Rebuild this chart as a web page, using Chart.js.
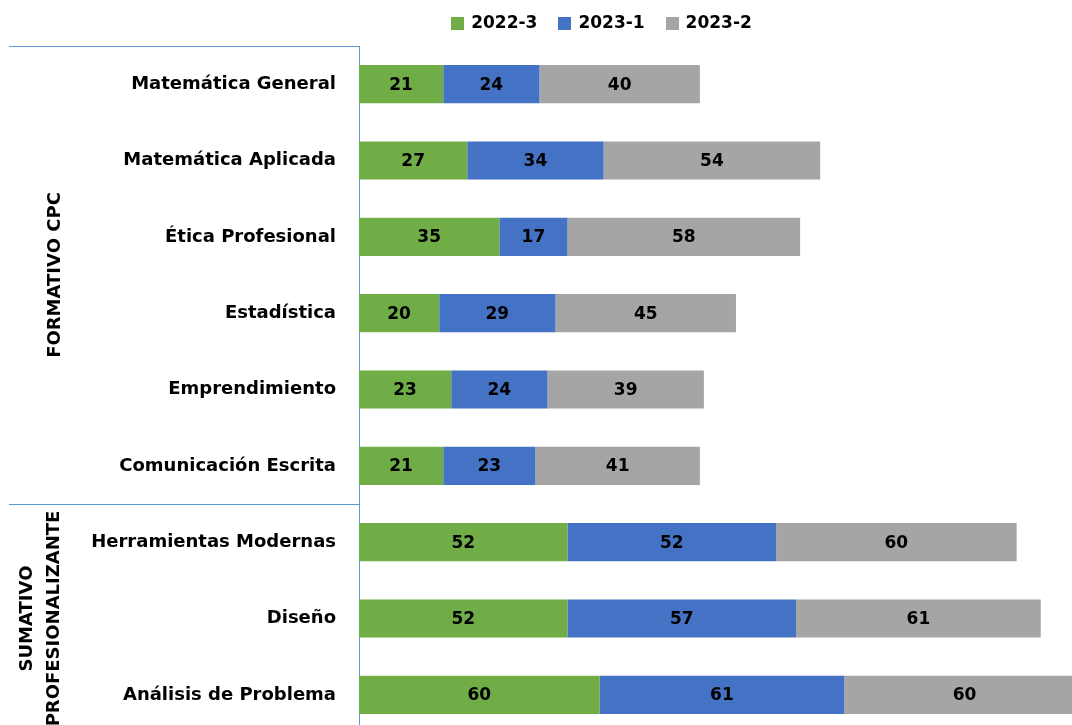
<!DOCTYPE html>
<html>
<head>
<meta charset="utf-8">
<script src="https://cdn.jsdelivr.net/npm/chart.js@4"></script>
<style>
  html, body { margin: 0; padding: 0; background: #fff; overflow: hidden; }
  canvas { display: block; }
</style>
</head>
<body>
<canvas id="chart" width="1072" height="733"></canvas>
<script>
let cursos = [
  "Matemática General",
  "Matemática Aplicada",
  "Ética Profesional",
  "Estadística",
  "Emprendimiento",
  "Comunicación Escrita",
  "Herramientas Modernas",
  "Diseño",
  "Análisis de Problema"
];
let periodos = ["2022-3", "2023-1", "2023-2"];
let v2022_3 = [21, 27, 35, 20, 23, 21, 52, 52, 60];
let v2023_1 = [24, 34, 17, 29, 24, 23, 52, 57, 61];
let v2023_2 = [40, 54, 58, 45, 39, 41, 60, 61, 60];
let colores = ["#70AD47", "#4472C4", "#A5A5A5"];

let grupos = [["FORMATIVO CPC"], ["SUMATIVO", "PROFESIONALIZANTE"]];
let grupoTamanos = [6, 3];

let fuente = "'DejaVu Sans', sans-serif";
Chart.defaults.font.family = fuente;
Chart.defaults.color = "#000";

let lineaAzul = "#5B9BD5";

// numbers inside each segment
let etiquetas = {
  id: "etiquetas",
  afterDatasetsDraw(chart) {
    let ctx = chart.ctx;
    ctx.save();
    ctx.font = "bold 17px " + fuente;
    ctx.fillStyle = "#000";
    ctx.textAlign = "center";
    ctx.textBaseline = "middle";
    chart.data.datasets.forEach((ds, d) => {
      chart.getDatasetMeta(d).data.forEach((bar, i) => {
        ctx.fillText(ds.data[i], (bar.x + bar.base) / 2, bar.y + 1);
      });
    });
    ctx.restore();
  }
};

// group labels and separator lines on the left
let gruposPlugin = {
  id: "grupos",
  afterDraw(chart) {
    let ctx = chart.ctx;
    let y = chart.scales.y;
    let area = chart.chartArea;
    ctx.save();
    ctx.strokeStyle = lineaAzul;
    ctx.lineWidth = 1;
    let inicio = 0;
    let arriba = area.top;
    grupos.forEach((nombre, g) => {
      let fin = inicio + grupoTamanos[g] - 1;
      let abajo = fin + 1 < cursos.length
        ? (y.getPixelForValue(fin) + y.getPixelForValue(fin + 1)) / 2
        : area.bottom;
      ctx.beginPath();
      ctx.moveTo(9, Math.round(arriba) + 0.5);
      ctx.lineTo(area.left, Math.round(arriba) + 0.5);
      ctx.stroke();

      let centro = (arriba + abajo) / 2;
      ctx.fillStyle = "#000";
      ctx.font = "bold 18px " + fuente;
      ctx.textAlign = "center";
      ctx.textBaseline = "middle";
      let xs = nombre.length === 1 ? [55] : [27, 54];
      nombre.forEach((linea, k) => {
        ctx.save();
        ctx.translate(xs[k], centro);
        ctx.rotate(-Math.PI / 2);
        ctx.fillText(linea, 0, 0);
        ctx.restore();
      });
      arriba = abajo;
      inicio = fin + 1;
    });
    ctx.restore();
  }
};

// legend on top
let leyenda = {
  id: "leyenda",
  afterDraw(chart) {
    let ctx = chart.ctx;
    ctx.save();
    ctx.font = "bold 17px " + fuente;
    ctx.textBaseline = "middle";
    let caja = 13, separa = 7, entre = 21;
    let anchos = chart.data.datasets.map(ds => ctx.measureText(ds.label).width);
    let total = anchos.reduce((a, b) => a + b, 0) + chart.data.datasets.length * (caja + separa) + entre * (anchos.length - 1);
    let x = 601.5 - total / 2;
    let yc = 23;
    chart.data.datasets.forEach((ds, d) => {
      ctx.fillStyle = ds.backgroundColor;
      ctx.fillRect(Math.round(x), Math.round(yc - caja / 2), caja, caja);
      ctx.fillStyle = "#000";
      ctx.fillText(ds.label, x + caja + separa, yc + 1);
      x += caja + separa + anchos[d] + entre;
    });
    ctx.restore();
  }
};

new Chart(document.getElementById("chart"), {
  type: "bar",
  data: {
    labels: cursos,
    datasets: [
      { label: periodos[0], data: v2022_3, backgroundColor: colores[0] },
      { label: periodos[1], data: v2023_1, backgroundColor: colores[1] },
      { label: periodos[2], data: v2023_2, backgroundColor: colores[2] }
    ]
  },
  options: {
    indexAxis: "y",
    responsive: false,
    animation: false,
    devicePixelRatio: 1,
    layout: { padding: { top: 46, left: 0, right: 0, bottom: 0 } },
    datasets: { bar: { barPercentage: 0.5, categoryPercentage: 1.0, borderWidth: 0 } },
    plugins: {
      legend: { display: false },
      tooltip: { enabled: false }
    },
    scales: {
      x: { stacked: true, display: false, min: 0, max: 177.8 },
      y: {
        stacked: true,
        grid: { display: false, drawTicks: false },
        border: { display: true, color: lineaAzul, width: 1 },
        ticks: { color: "#000", font: { size: 18, weight: "bold" }, padding: 23 },
        afterFit(s) {
          s.width = 359;
          s.paddingTop = 0;
          s.paddingBottom = 0;
        }
      }
    }
  },
  plugins: [etiquetas, gruposPlugin, leyenda]
});
</script>
</body>
</html>
